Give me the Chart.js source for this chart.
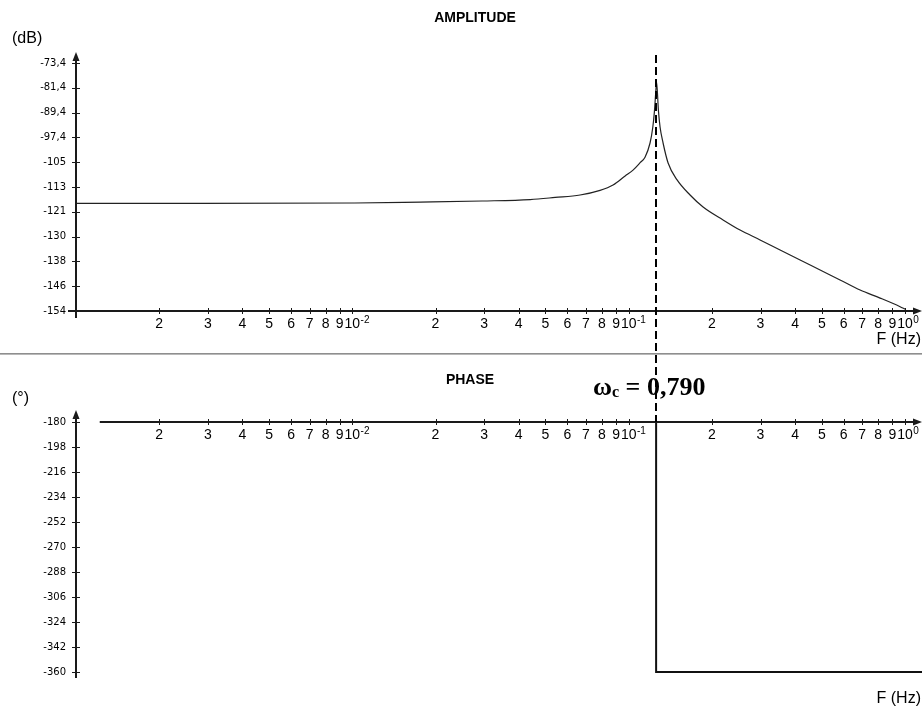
<!DOCTYPE html>
<html><head><meta charset="utf-8">
<script src="https://cdn.jsdelivr.net/npm/chart.js@4.4.1/dist/chart.umd.min.js"></script>
<style>
html,body{margin:0;padding:0;background:#fff;}
#wrap{position:relative;width:922px;height:708px;overflow:hidden;background:#fff;}
canvas{position:absolute;left:0;top:0;}
</style></head><body>
<div id="wrap"><canvas id="amp" width="922" height="708"></canvas><canvas id="phase" width="922" height="708"></canvas></div>
<script>
// ---------- data ----------
const ampFreq = [0.001, 0.0028, 0.0102, 0.0176, 0.0295, 0.044, 0.0542, 0.0667, 0.0788, 0.0878, 0.0971, 0.1037, 0.1100, 0.1146, 0.1195, 0.1223, 0.1239, 0.1257, 0.1262, 0.1281, 0.1299, 0.1332, 0.1389, 0.1497, 0.1668, 0.1859, 0.2196, 0.2530, 0.2989, 0.3532, 0.4172, 0.4930, 0.5822, 0.6879, 0.8127, 0.9601, 1.0];
const ampDb   = [-119.0, -119.0, -118.9, -118.6, -118.25, -117.8, -117.1, -116.3, -114.8, -113.05, -110.1, -108.2, -105.8, -104.0, -99.4, -94.2, -89.3, -81.2, -79.6, -88.7, -94.2, -99.4, -105.9, -111.4, -116.3, -120.2, -124.4, -127.7, -130.9, -134.2, -137.4, -140.7, -143.9, -147.2, -149.8, -152.6, -153.4];

const phaseFreq = [0.00122, 0.1257, 0.1257, 1.16];
const phaseDeg  = [-180, -180, -360, -360];

const xTickValues = [0.001,0.002,0.003,0.004,0.005,0.006,0.007,0.008,0.009,
                     0.01,0.02,0.03,0.04,0.05,0.06,0.07,0.08,0.09,
                     0.1,0.2,0.3,0.4,0.5,0.6,0.7,0.8,0.9,1];
const xTickLabels = ['','2','3','4','5','6','7','8','9',
                     '10','2','3','4','5','6','7','8','9',
                     '10','2','3','4','5','6','7','8','9','10'];
const xTickExponents = ['','','','','','','','','',
                        '-2','','','','','','','','',
                        '-1','','','','','','','','','0'];

const AMP_MIN = -154, AMP_MAX = -73.4;
const ampTickLabels = ['-154','-146','-138','-130','-121','-113','-105','-97,4','-89,4','-81,4','-73,4'];
const phaseTicks = [-360,-342,-324,-306,-288,-270,-252,-234,-216,-198,-180];

const omegaC = 0.790;          // rad/s
const omegaCLabel = '0,790';

// ---------- styling ----------
const SANS = '"Liberation Sans", Arial, sans-serif';
const SERIF = '"Liberation Serif", "Times New Roman", serif';
const YFONT = {family: '"DejaVu Sans", sans-serif', size: 10};
const XFONT = {family: SANS, size: 14};
const AXIS_COLOR = '#1a1a1a';

function xScale(extra) {
  return Object.assign({
    type: 'logarithmic', min: 0.001, max: 1,
    grid: {display: false, drawTicks: false},
    border: {display: false},
    ticks: {autoSkip: false, maxRotation: 0, minRotation: 0, padding: 5, color: '#000', font: XFONT,
            callback: (v, i) => xTickLabels[i]},
    afterBuildTicks: s => { s.ticks = xTickValues.map(v => ({value: v})); }
  }, extra);
}

function arrowUp(ctx, x, tipY) {
  ctx.beginPath(); ctx.moveTo(x, tipY); ctx.lineTo(x - 3.5, tipY + 9); ctx.lineTo(x + 3.5, tipY + 9); ctx.closePath(); ctx.fill();
}
function arrowRight(ctx, tipX, y) {
  ctx.beginPath(); ctx.moveTo(tipX, y); ctx.lineTo(tipX - 9, y - 3.5); ctx.lineTo(tipX - 9, y + 3.5); ctx.closePath(); ctx.fill();
}

function drawFrame(chart, axisYValue, xStartPx, yTopTip, yBottomExt) {
  const ctx = chart.ctx, xs = chart.scales.x, ys = chart.scales.y;
  const ax = Math.round(xs.getPixelForValue(0.001));
  const ay = Math.round(ys.getPixelForValue(axisYValue));
  ctx.save();
  ctx.strokeStyle = AXIS_COLOR; ctx.fillStyle = AXIS_COLOR;
  ctx.lineWidth = 2;
  ctx.beginPath(); ctx.moveTo(ax, yTopTip + 6); ctx.lineTo(ax, Math.round(ys.getPixelForValue(ys.min)) + yBottomExt); ctx.stroke();
  arrowUp(ctx, ax, yTopTip);
  const tipX = chart.width;
  ctx.beginPath(); ctx.moveTo(xStartPx, ay); ctx.lineTo(tipX - 6, ay); ctx.stroke();
  arrowRight(ctx, tipX, ay);
  ctx.lineWidth = 1;
  ys.ticks.forEach(t => {
    const py = Math.round(ys.getPixelForValue(t.value)) + 0.5;
    ctx.beginPath(); ctx.moveTo(ax - 4, py); ctx.lineTo(ax + 4, py); ctx.stroke();
  });
  xs.ticks.forEach((t, i) => {
    if (i === 0) return;
    const px = Math.round(xs.getPixelForValue(t.value)) + 0.5;
    ctx.beginPath(); ctx.moveTo(px, ay - 3); ctx.lineTo(px, ay + 3); ctx.stroke();
  });
  ctx.font = '14px ' + SANS;
  const w10 = ctx.measureText('10').width;
  ctx.font = '10px ' + SANS;
  ctx.textAlign = 'left'; ctx.textBaseline = 'top'; ctx.fillStyle = '#000';
  xs.ticks.forEach((t, i) => {
    const e = xTickExponents[i];
    if (!e) return;
    const px = xs.getPixelForValue(t.value);
    ctx.fillText(e, px + w10 / 2 + 0.5, ay + 4);
  });
  ctx.restore();
}

const ampPlugin = {
  id: 'ampFrame',
  afterDraw(chart) {
    const ctx = chart.ctx;
    drawFrame(chart, AMP_MIN, chart.chartArea.left - 8, chart.chartArea.top - 11, 7);
    ctx.save();
    ctx.fillStyle = '#000';
    ctx.font = 'bold 14px ' + SANS; ctx.textAlign = 'center'; ctx.textBaseline = 'middle';
    ctx.fillText('AMPLITUDE', 475, 18);
    ctx.font = '16px ' + SANS; ctx.textAlign = 'left';
    ctx.fillText('(dB)', 12, 39);
    ctx.textAlign = 'right';
    ctx.fillText('F (Hz)', 921, 340);
    ctx.fillStyle = '#8e8e8e'; ctx.fillRect(0, 353, 922, 1);
    ctx.fillStyle = '#b8b8b8'; ctx.fillRect(0, 354, 922, 1);
    ctx.restore();
  }
};

const phasePlugin = {
  id: 'phaseFrame',
  afterDraw(chart) {
    const ctx = chart.ctx, xs = chart.scales.x, ys = chart.scales.y;
    drawFrame(chart, -180, xs.getPixelForValue(phaseFreq[0]), chart.chartArea.top - 12, 6);
    ctx.save();
    ctx.fillStyle = '#000';
    ctx.font = 'bold 14px ' + SANS; ctx.textAlign = 'center'; ctx.textBaseline = 'middle';
    ctx.fillText('PHASE', 470, 380);
    ctx.font = '16px ' + SANS; ctx.textAlign = 'left';
    ctx.fillText('(°)', 12, 399);
    ctx.textAlign = 'right';
    ctx.fillText('F (Hz)', 921, 699);
    ctx.textAlign = 'left'; ctx.textBaseline = 'alphabetic';
    let x = 593; const base = 395;
    ctx.font = 'bold 26px ' + SERIF; ctx.fillText('ω', x, base); x += ctx.measureText('ω').width;
    ctx.font = 'bold 16px ' + SERIF; ctx.fillText('c', x, base + 2); x += ctx.measureText('c').width;
    ctx.font = 'bold 26px ' + SERIF; ctx.fillText(' = ' + omegaCLabel, x, base);
    const px = Math.round(xs.getPixelForValue(omegaC / (2 * Math.PI)));
    ctx.strokeStyle = '#000'; ctx.lineWidth = 2; ctx.setLineDash([8, 4]);
    ctx.beginPath(); ctx.moveTo(px, 55); ctx.lineTo(px, ys.getPixelForValue(-180)); ctx.stroke();
    ctx.restore();
  }
};

const common = {
  responsive: false, animation: false, devicePixelRatio: 1, events: [],
  plugins: {legend: {display: false}, tooltip: {enabled: false}, title: {display: false}}
};

new Chart(document.getElementById('amp'), {
  type: 'line',
  data: {datasets: [{
    data: ampFreq.map((f, i) => ({x: f, y: ampDb[i]})),
    borderColor: '#222', borderWidth: 1.2, pointRadius: 0, fill: false,
    cubicInterpolationMode: 'monotone', clip: false
  }]},
  options: Object.assign({}, common, {
    layout: {padding: {left: 0, top: 63, right: 17, bottom: 352}},
    scales: {
      x: xScale({position: 'bottom', afterFit: s => { s.height = 45; }}),
      y: {
        type: 'linear', min: AMP_MIN, max: AMP_MAX, position: 'left',
        grid: {display: false, drawTicks: false}, border: {display: false},
        ticks: {padding: 10, color: '#000', font: YFONT, callback: (v, i) => ampTickLabels[i]},
        afterBuildTicks: s => { s.ticks = ampTickLabels.map((_, i) => ({value: AMP_MIN + i * (AMP_MAX - AMP_MIN) / (ampTickLabels.length - 1)})); },
        afterFit: s => { s.width = 76; }
      }
    }
  }),
  plugins: [ampPlugin]
});

new Chart(document.getElementById('phase'), {
  type: 'line',
  data: {datasets: [{
    data: phaseFreq.map((f, i) => ({x: f, y: phaseDeg[i]})),
    borderColor: '#111', borderWidth: 2, pointRadius: 0, fill: false, tension: 0, clip: false
  }]},
  options: Object.assign({}, common, {
    layout: {padding: {left: 0, top: 422, right: 17, bottom: 36}},
    scales: {
      x: xScale({position: {y: -180}}),
      y: {
        type: 'linear', min: -360, max: -180, position: 'left',
        grid: {display: false, drawTicks: false}, border: {display: false},
        ticks: {padding: 10, color: '#000', font: YFONT, callback: (v, i) => String(phaseTicks[i])},
        afterBuildTicks: s => { s.ticks = phaseTicks.map(v => ({value: v})); },
        afterFit: s => { s.width = 76; }
      }
    }
  }),
  plugins: [phasePlugin]
});
</script>
</body></html>
